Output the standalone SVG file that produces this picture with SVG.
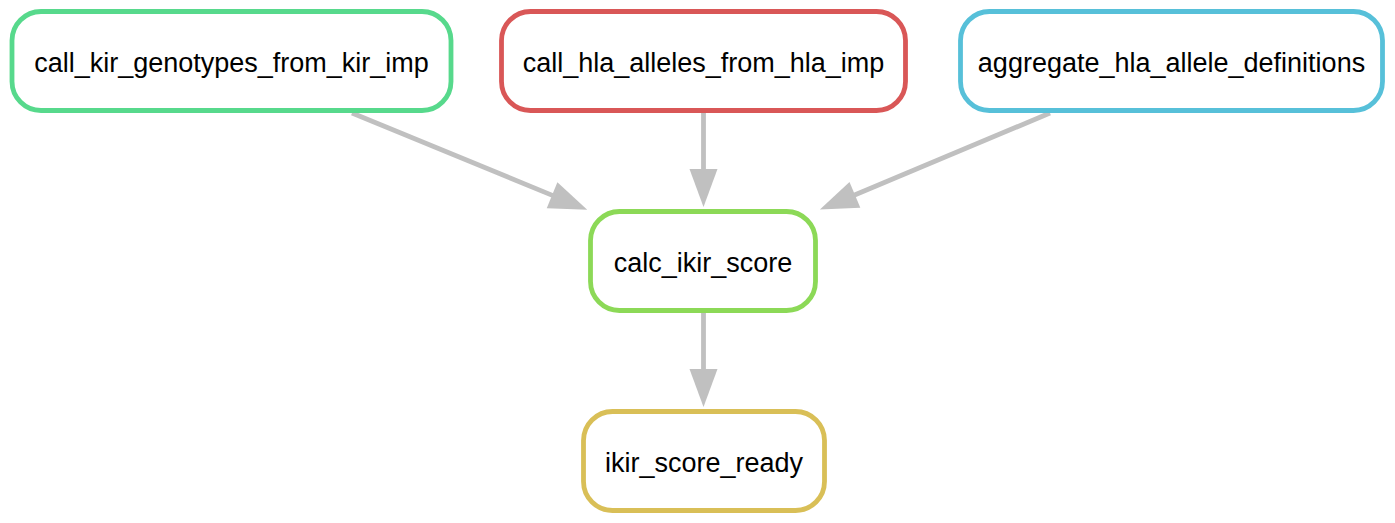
<svg xmlns="http://www.w3.org/2000/svg" width="1395" height="523" viewBox="0 0 1395 523">
<style>
.node rect{fill:#ffffff;stroke-width:4.8}
.node text{font-family:"Liberation Sans",Arial,sans-serif;font-size:27px;fill:#000000;text-anchor:middle}
.edge{stroke:#c0c0c0;stroke-width:4.8;fill:none}
</style>
<defs>
<marker id="arr" markerUnits="userSpaceOnUse" viewBox="0 0 38 28" refX="1" refY="14" markerWidth="38" markerHeight="28" orient="auto" overflow="visible">
<path d="M0,0 L38,14 L0,28 Z" fill="#c0c0c0"/>
</marker>
</defs>
<rect width="1395" height="523" fill="#ffffff"/>
<g id="connectors">
<line class="edge" x1="352" y1="113" x2="553" y2="195.6" marker-end="url(#arr)"/>
<line class="edge" x1="703.5" y1="113" x2="703.5" y2="170" marker-end="url(#arr)"/>
<line class="edge" x1="1050" y1="113" x2="854" y2="195.3" marker-end="url(#arr)"/>
<line class="edge" x1="703.5" y1="313" x2="703.5" y2="370" marker-end="url(#arr)"/>
</g>
<g id="call_kir_genotypes_from_kir_imp" class="node">
<rect x="12" y="11.5" width="439" height="99" rx="29" ry="29" stroke="#57d98c"/>
<text x="231.5" y="72">call_kir_genotypes_from_kir_imp</text>
</g>
<g id="call_hla_alleles_from_hla_imp" class="node">
<rect x="501.5" y="11.5" width="404" height="99" rx="29" ry="29" stroke="#d95757"/>
<text x="703.5" y="72">call_hla_alleles_from_hla_imp</text>
</g>
<g id="aggregate_hla_allele_definitions" class="node">
<rect x="960.5" y="11.5" width="422" height="99" rx="29" ry="29" stroke="#57c0d9"/>
<text x="1171.5" y="72">aggregate_hla_allele_definitions</text>
</g>
<g id="calc_ikir_score" class="node">
<rect x="590.5" y="211.5" width="225" height="99" rx="29" ry="29" stroke="#8cd957"/>
<text x="703" y="272">calc_ikir_score</text>
</g>
<g id="ikir_score_ready" class="node">
<rect x="583.5" y="411.5" width="241" height="99" rx="29" ry="29" stroke="#d9bf57"/>
<text x="704" y="472">ikir_score_ready</text>
</g>
</svg>
